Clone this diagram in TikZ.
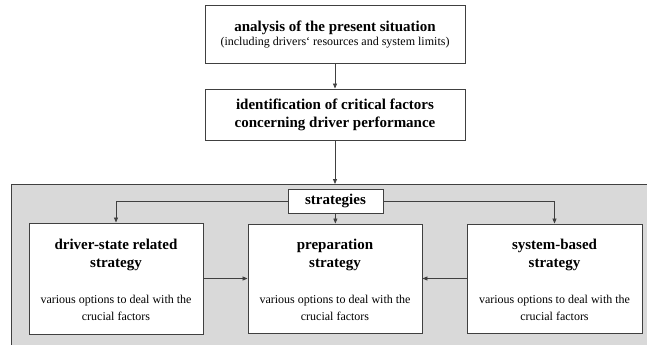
\documentclass[tikz,border=0pt]{standalone}
\usepackage{fontspec}
\setmainfont{Liberation Serif}
\usetikzlibrary{arrows.meta,shadows}
\definecolor{bgray}{HTML}{D9D9D9}
\definecolor{lgray}{HTML}{404040}
\tikzset{
  box/.style={draw=lgray, line width=0.9pt, fill=white, inner sep=0pt,
    drop shadow={shadow xshift=1pt, shadow yshift=-1pt, fill=lgray!80, opacity=1}},
  conn/.style={draw=lgray, line width=0.8pt, -{Triangle[length=5pt,width=4pt]}},
  ttl/.style={font=\fontsize{15}{18}\selectfont\bfseries, align=center, inner sep=0pt},
  dsc/.style={font=\fontsize{12}{17}\selectfont, align=center, inner sep=0pt}
}
\begin{document}
\begin{tikzpicture}[x=1pt,y=-1pt]
\useasboundingbox (0,0) rectangle (647,345);
% grey region
\fill[bgray] (11,184) rectangle (647,345);
\draw[lgray, line width=0.9pt] (647,184) -- (11,184) -- (11,345);
\coordinate (grtop) at (335,184);
% top boxes
\node[box, minimum width=260pt, minimum height=58pt] (ana) at (335,34) {};
\node[ttl] (anat) at (335,28) {analysis of the present situation};
\node[dsc] (anas) at (335,43) {(including drivers‘ resources and system limits)};
\node[box, minimum width=260pt, minimum height=51pt] (ident) at (335,114.5) {};
\node[ttl] (identt) at (335,115) {identification of critical factors\\concerning driver performance};
% strategies
\node[box, minimum width=95pt, minimum height=24pt] (strat) at (335.5,201) {};
\node[ttl] (stratt) at (335.5,201) {strategies};
% strategy boxes
\node[box, minimum width=174pt, minimum height=111pt] (left) at (116,278.5) {};
\node[box, minimum width=174pt, minimum height=109pt] (mid) at (335,278.5) {};
\node[box, minimum width=175pt, minimum height=109pt] (right) at (554.5,278.5) {};
\node[ttl] (leftt) at (116,255) {driver-state related\\strategy};
\node[dsc] (leftd) at (116,307.5) {various options to deal with the\\crucial factors};
\node[ttl] (midt) at (335,255) {preparation\\strategy};
\node[dsc] (midd) at (335,307.5) {various options to deal with the\\crucial factors};
\node[ttl] (rightt) at (554.5,255) {system-based\\strategy};
\node[dsc] (rightd) at (554.5,307.5) {various options to deal with the\\crucial factors};
% connectors
\draw[conn] (ana) -- (ident);
\draw[conn] (ident) -- (grtop);
\draw[conn] (strat.west) -| (left.north);
\draw[conn] (strat.east) -| (right.north);
\draw[conn] (strat) -- (mid);
\draw[conn] (left) -- (mid);
\draw[conn] (right) -- (mid);
\end{tikzpicture}
\end{document}
